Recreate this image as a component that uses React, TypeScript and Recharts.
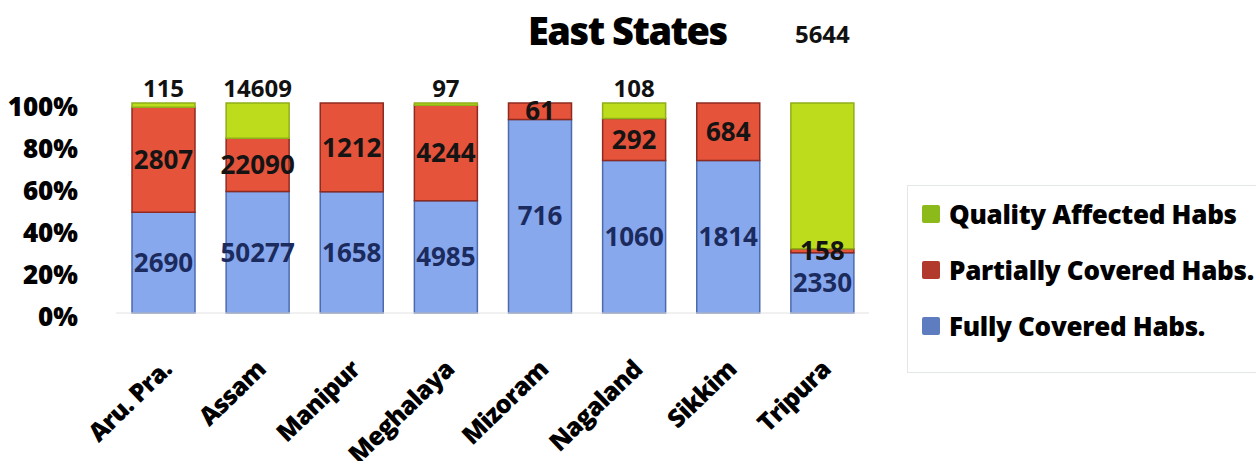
import React from "react";
import { BarChart, Bar, XAxis, YAxis, Legend, LabelList } from "recharts";

const states = ["Aru. Pra.", "Assam", "Manipur", "Meghalaya", "Mizoram", "Nagaland", "Sikkim", "Tripura"];
const fullyCovered = [2690, 50277, 1658, 4985, 716, 1060, 1814, 2330];
const partiallyCovered = [2807, 22090, 1212, 4244, 61, 292, 684, 158];
const qualityAffected = [115, 14609, 0, 97, 0, 108, 0, 5644];
const yTicks = [0, 0.2, 0.4, 0.6, 0.8, 1];

const FONT = "'Open Sans', 'DejaVu Sans', sans-serif";

const SERIES = [
  { key: "quality", name: "Quality Affected Habs", legend: "#8cba1a" },
  { key: "partial", name: "Partially Covered Habs.", legend: "#b23a2c" },
  { key: "fully", name: "Fully Covered Habs.", legend: "#5e7cc0" },
];

const data = states.map((s, i) => ({
  state: s,
  fully: fullyCovered[i],
  partial: partiallyCovered[i],
  quality: qualityAffected[i],
}));

function StateTick({ x, y, payload }: any) {
  return (
    <g transform={`translate(${x + 4},${y + 44})`}>
      <text
        transform="rotate(-44)"
        textAnchor="end"
        dy="0.35em"
        fontFamily={FONT}
        fontWeight={800}
        fontSize={25}
        letterSpacing={-0.8}
        fill="#000"
      >
        {payload.value}
      </text>
    </g>
  );
}

// quality values sit above each column; the big Tripura one is pushed up near the title like the original
function TopLabel(props: any) {
  const { x, y, width, height, value } = props;
  const tall = Math.abs(Number(height) || 0) > 100;
  const lift = tall ? 70 : 16;
  const top = Math.min(y, y + (Number(height) || 0));
  return (
    <text
      x={x + width / 2}
      y={top - lift}
      textAnchor="middle"
      dominantBaseline="central"
      fontFamily={FONT}
      fontWeight={700}
      fontSize={24}
      fill="#111"
    >
      {value}
    </text>
  );
}

function LegendBox() {
  return (
    <div
      style={{
        borderTop: "1px solid #e2e8e8",
        borderLeft: "1px solid #e2e8e8",
        borderBottom: "1px solid #e2e8e8",
        padding: "12px 0 6px 14px",
        background: "#fff",
      }}
    >
      {SERIES.map((s) => (
        <div key={s.key} style={{ display: "flex", alignItems: "center", height: 32, marginBottom: 24 }}>
          <span style={{ width: 18, height: 18, background: s.legend, borderRadius: 2, marginRight: 9 }} />
          <span
            style={{
              fontFamily: FONT,
              fontWeight: 800,
              fontSize: 26,
              letterSpacing: -0.3,
              color: "#000",
              whiteSpace: "nowrap",
            }}
          >
            {s.name}
          </span>
        </div>
      ))}
    </div>
  );
}

export default function App() {
  return (
    <div style={{ position: "absolute", left: 0, top: 0, width: 1256, height: 461, background: "#fff", overflow: "hidden" }}>
      <div
        style={{
          position: "absolute",
          left: 528,
          top: 4,
          fontFamily: FONT,
          fontWeight: 800,
          fontSize: 38,
          letterSpacing: -1.5,
          color: "#000",
          zIndex: 2,
        }}
      >
        East States
      </div>
      <BarChart
        width={1256}
        height={461}
        data={data}
        stackOffset="expand"
        margin={{ top: 103, right: 38, bottom: 0, left: 0 }}
      >
        <XAxis
          dataKey="state"
          height={148}
          axisLine={{ stroke: "#e2e2e2" }}
          tickLine={false}
          tick={<StateTick />}
          interval={0}
        />
        <YAxis
          width={116}
          ticks={yTicks}
          domain={[0, 1]}
          axisLine={false}
          tickLine={false}
          tickFormatter={(v: number) => `${Math.round(v * 100)}%`}
          tick={{ fontFamily: FONT, fontWeight: 800, fontSize: 26, fill: "#000", dx: -30, dy: 4 }}
        />
        <Legend
          layout="vertical"
          align="right"
          verticalAlign="middle"
          wrapperStyle={{ left: 907, top: 185, width: 349 }}
          content={<LegendBox />}
        />
        <Bar dataKey="fully" name="Fully Covered Habs." stackId="a" fill="#88a8ee" stroke="#4d6aad" strokeWidth={1.5} barSize={63} isAnimationActive={false}>
          <LabelList dataKey="fully" position="center" fontFamily={FONT} fontWeight={700} fontSize={26} fill="#1c2b5e" />
        </Bar>
        <Bar dataKey="partial" name="Partially Covered Habs." stackId="a" fill="#e5533b" stroke="#8e2b20" strokeWidth={1.5} barSize={63} isAnimationActive={false}>
          <LabelList dataKey="partial" position="center" fontFamily={FONT} fontWeight={700} fontSize={26} fill="#141414" />
        </Bar>
        <Bar dataKey="quality" name="Quality Affected Habs" stackId="a" fill="#bcdc1c" stroke="#8fae18" strokeWidth={1.5} barSize={63} isAnimationActive={false}>
          <LabelList dataKey="quality" content={<TopLabel />} />
        </Bar>
      </BarChart>
    </div>
  );
}
